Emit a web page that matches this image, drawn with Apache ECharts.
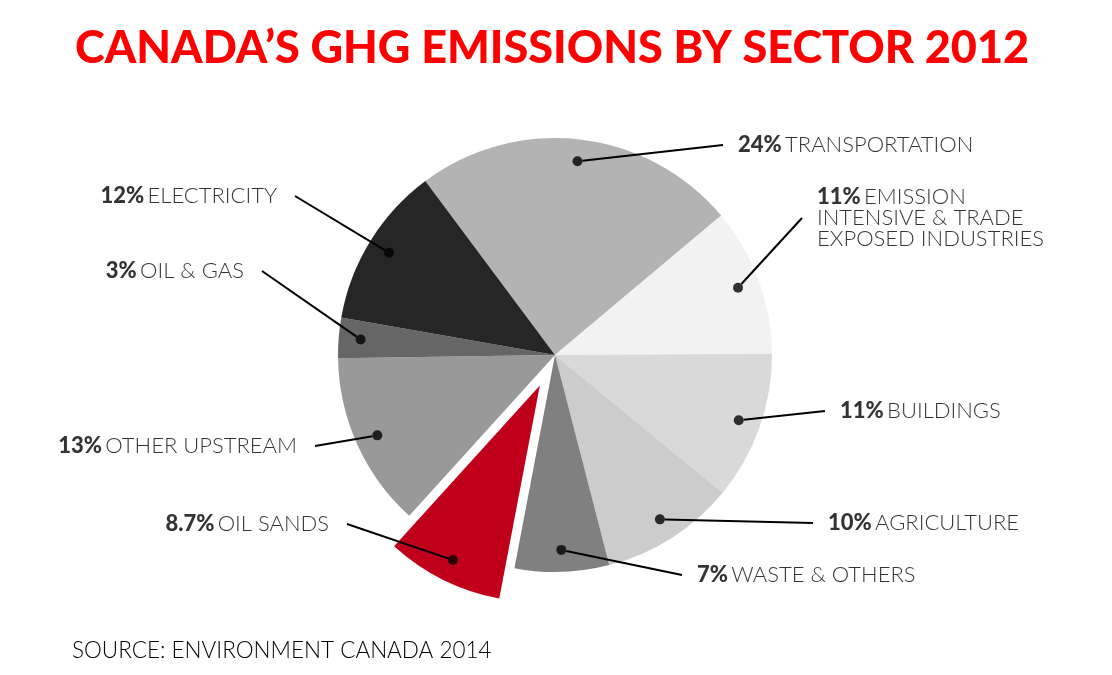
<!DOCTYPE html>
<html>
<head>
<meta charset="utf-8">
<title>Canada's GHG emissions by sector 2012</title>
<script src="https://cdn.jsdelivr.net/npm/echarts@6/dist/echarts.min.js"></script>
<style>
  html, body { margin: 0; padding: 0; background: #fff; }
  #chart { width: 1112px; height: 675px; }
</style>
</head>
<body>
<div id="chart"></div>
<script>
// sectors clockwise, starting at the electricity / transportation edge
const sectors = [
    'TRANSPORTATION',
    'EMISSION\nINTENSIVE & TRADE\nEXPOSED INDUSTRIES',
    'BUILDINGS',
    'AGRICULTURE',
    'WASTE & OTHERS',
    'OIL SANDS',
    'OTHER UPSTREAM',
    'OIL & GAS',
    'ELECTRICITY'
];
const shares = [24, 11, 11, 10, 7, 8.7, 13, 3, 12];
const sliceColors = ['#b3b3b3', '#f2f2f2', '#d9d9d9', '#cccccc', '#808080', '#c0001a', '#999999', '#666666', '#262626'];
const explodedIndex = 5;

// label placement (layout only): x is where the leader meets the label
const labelSpots = [
    { x: 723, y: 145, align: 'left' },
    { x: 802, y: 218, align: 'left' },
    { x: 825, y: 411, align: 'left' },
    { x: 813, y: 523, align: 'left' },
    { x: 682, y: 575, align: 'left' },
    { x: 347, y: 524, align: 'right' },
    { x: 315, y: 446, align: 'right' },
    { x: 262, y: 271, align: 'right' },
    { x: 295, y: 196, align: 'right' }
];

const CENTER = [555, 355];
const RADIUS = 217;
const START = 126.7;
const OFFSET = 34;
const DOT_R = 195;
const GAP_L = 15;
const GAP_R = 18;
const FONT = 'Lato';
// polar frame for the dots, a bit wider than the pie so the pulled-out dot fits
const POLAR_R = 280;

var myChart = echarts.init(document.getElementById('chart'));

const total = shares.reduce(function(a, b) { return a + b; }, 0);
var run = 0;
const dotData = shares.map(function(v, i) {
    const mid = run + v / 2;
    run += v;
    const left = labelSpots[i].align === 'left';
    return {
        value: [DOT_R + (i === explodedIndex ? OFFSET : 0), mid],
        label: { padding: left ? [0, 0, 0, GAP_L] : [0, GAP_R, 0, 0] }
    };
});

function labelText(params) {
    const lines = sectors[params.dataIndex].split('\n');
    var s = '{p|' + shares[params.dataIndex] + '%} {n|' + lines[0] + '}';
    for (var k = 1; k < lines.length; k++) {
        s += '\n{n|' + lines[k] + '}';
    }
    return s;
}

function placeLabel(params) {
    const spot = labelSpots[params.dataIndex];
    return { x: spot.x, y: spot.y, align: spot.align, verticalAlign: 'middle' };
}

const option = {
    animation: false,
    title: [{
        text: 'CANADA\u2019S GHG EMISSIONS BY SECTOR 2012',
        left: 70,
        top: 21,
        textStyle: { fontFamily: FONT, fontSize: 45, fontWeight: 900, color: '#ff0000' }
    }, {
        text: 'SOURCE: ENVIRONMENT CANADA 2014',
        left: 67,
        top: 634,
        textStyle: { fontFamily: FONT, fontSize: 22.5, fontWeight: 300, color: '#000' }
    }],
    polar: { center: CENTER, radius: POLAR_R },
    angleAxis: { type: 'value', min: 0, max: total, startAngle: START, clockwise: true, show: false },
    radiusAxis: { type: 'value', min: 0, max: POLAR_R, show: false },
    series: [{
        type: 'pie',
        center: CENTER,
        radius: RADIUS,
        startAngle: START,
        clockwise: true,
        selectedMode: 'single',
        selectedOffset: OFFSET,
        emphasis: { disabled: true },
        itemStyle: { borderWidth: 0 },
        label: { show: false },
        labelLine: { show: false },
        data: shares.map(function(v, i) {
            return {
                name: sectors[i],
                value: v,
                selected: i === explodedIndex,
                itemStyle: { color: sliceColors[i] }
            };
        })
    }, {
        // the dots inside the slices carry the labels and their leaders
        type: 'scatter',
        coordinateSystem: 'polar',
        symbol: 'circle',
        symbolSize: 10,
        itemStyle: { color: '#000' },
        silent: true,
        clip: false,
        z: 5,
        data: dotData,
        label: {
            show: true,
            formatter: labelText,
            lineHeight: 21,
            rich: {
                p: { fontFamily: FONT, fontSize: 22, fontWeight: 900, color: '#000', lineHeight: 21 },
                n: { fontFamily: FONT, fontSize: 22, fontWeight: 300, color: '#000', lineHeight: 21 }
            }
        },
        labelLine: { show: true, length2: 0, lineStyle: { color: '#000', width: 2 } },
        labelLayout: placeLabel
    }]
};

myChart.setOption(option);
</script>
</body>
</html>
